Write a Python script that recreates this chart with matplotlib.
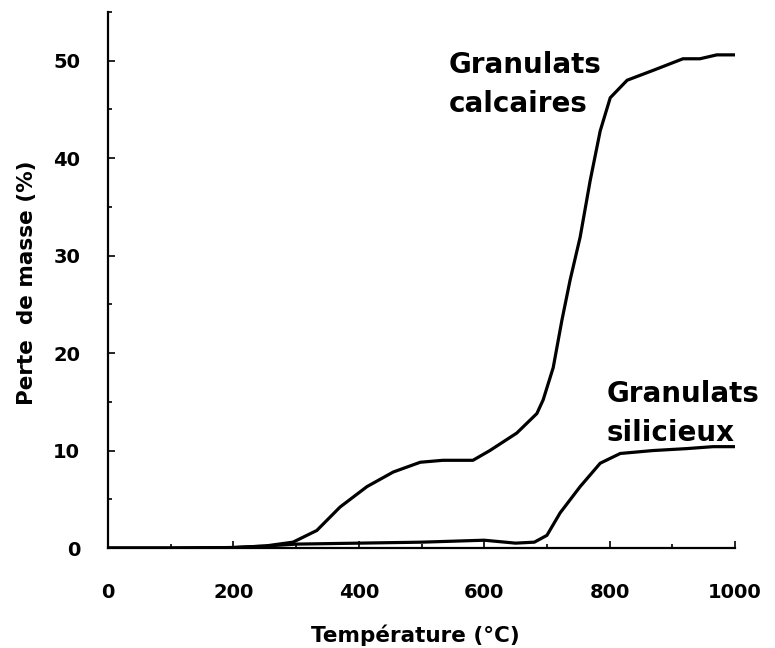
"""
Perte de masse des granulats en fonction de la température.
"""

import matplotlib
matplotlib.use("Agg")
import matplotlib.pyplot as plt
from matplotlib.ticker import MultipleLocator

# granulats calcaires
temp_calc = [0, 100, 200, 250, 295, 333, 370, 413, 455, 498, 534, 582, 609,
             652, 684, 694, 710, 724, 737, 753, 769, 785, 801, 828, 869, 917,
             944, 971, 1000]
perte_calc = [0.0, 0.0, 0.05, 0.2, 0.6, 1.8, 4.2, 6.3, 7.8, 8.8, 9.0, 9.0, 10.0,
              11.8, 13.8, 15.2, 18.5, 23.4, 27.5, 31.9, 37.7, 42.8, 46.2, 48.0,
              49.0, 50.2, 50.2, 50.6, 50.6]

# granulats silicieux
temp_sil = [0, 100, 200, 250, 300, 400, 500, 600, 650, 680, 700, 721, 753,
            785, 817, 869, 923, 965, 1000]
perte_sil = [0.0, 0.0, 0.05, 0.2, 0.4, 0.5, 0.6, 0.8, 0.5, 0.6, 1.3, 3.6, 6.3,
             8.7, 9.7, 10.0, 10.2, 10.4, 10.4]

x_ticks = [0, 200, 400, 600, 800, 1000]
y_ticks = [0, 10, 20, 30, 40, 50]

fig = plt.figure(figsize=(7.75, 6.48), dpi=100)
ax = fig.add_axes([0.1394, 0.1543, 0.809, 0.8272])

ax.plot(temp_calc, perte_calc, color="black", lw=2.3, solid_capstyle="round")
ax.plot(temp_sil, perte_sil, color="black", lw=2.3, solid_capstyle="round")

ax.set_xlim(0, 1000)
ax.set_ylim(0, 55)
ax.set_xticks(x_ticks)
ax.set_yticks(y_ticks)
ax.xaxis.set_minor_locator(MultipleLocator(100))
ax.yaxis.set_minor_locator(MultipleLocator(5))

for side in ["top", "right"]:
    ax.spines[side].set_visible(False)
for side in ["left", "bottom"]:
    ax.spines[side].set_linewidth(1.6)

ax.tick_params(axis="both", which="both", direction="in", width=1.2)
ax.tick_params(axis="both", which="major", length=5)
ax.tick_params(axis="both", which="minor", length=3)
ax.tick_params(axis="x", which="major", pad=25, labelsize=14)
ax.tick_params(axis="y", which="major", pad=20, labelsize=14)
for lab in ax.get_xticklabels() + ax.get_yticklabels():
    lab.set_fontweight("bold")

ax.set_xlabel("Température (°C)", fontsize=15.5, fontweight="bold")
ax.set_ylabel("Perte  de masse (%)", fontsize=15.5, fontweight="bold")
ax.xaxis.set_label_coords(0.49, -0.143)
ax.yaxis.set_label_coords(-0.114, 0.494)

ax.text(544, 51.0, "Granulats\ncalcaires", fontsize=20, fontweight="bold",
        ha="left", va="top", linespacing=1.5)
ax.text(796, 17.2, "Granulats\nsilicieux", fontsize=20, fontweight="bold",
        ha="left", va="top", linespacing=1.5)

fig.savefig("out.png", dpi=100)
